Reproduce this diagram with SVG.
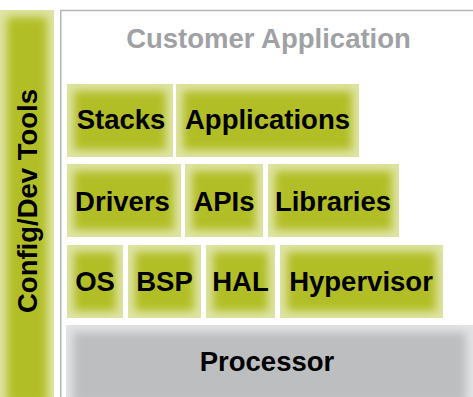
<svg xmlns="http://www.w3.org/2000/svg" width="473" height="397" viewBox="0 0 473 397">
  <defs>
    <!-- Soft block: pale rim fading into a solid core of the fill colour -->
    <filter id="soft" x="0" y="0" width="1" height="1" color-interpolation-filters="sRGB">
      <feColorMatrix in="SourceGraphic" type="matrix" values="0.42 0 0 0 0.58  0 0.42 0 0 0.58  0 0 0.42 0 0.58  0 0 0 1 0" result="rim"/>
      <feMorphology in="SourceAlpha" operator="erode" radius="7" result="inner"/>
      <feGaussianBlur in="inner" stdDeviation="4.5" result="mask"/>
      <feComposite in="SourceGraphic" in2="mask" operator="in" result="core0"/>
      <feComposite in="core0" in2="SourceAlpha" operator="in" result="core"/>
      <feMerge>
        <feMergeNode in="rim"/>
        <feMergeNode in="core"/>
      </feMerge>
    </filter>
  </defs>
  <style>
    .blk { fill: #b2be26; filter: url(#soft); }
    .cpu { fill: #bdbec0; filter: url(#soft); }
    .lbl { font-family: "Liberation Sans", Arial, Helvetica, sans-serif; font-weight: bold; font-size: 27.5px; fill: #000; text-anchor: middle; }
    .ttl { font-family: "Liberation Sans", Arial, Helvetica, sans-serif; font-weight: bold; font-size: 27.5px; fill: #a0a1a4; text-anchor: middle; }
    .frame { fill: none; stroke: #b4b5b7; stroke-width: 1.5; }
  </style>

  <rect width="473" height="397" fill="#ffffff"/>

  <!-- side bar -->
  <g id="config-dev-tools">
    <rect class="blk" x="0" y="10" width="54" height="400"/>
    <text class="lbl" transform="translate(37 201) rotate(-90)" x="0" y="0">Config/Dev Tools</text>
  </g>

  <!-- customer application frame -->
  <g id="customer-application">
    <path class="frame" d="M473 10.5 H60.75 V397"/>
    <text class="ttl" x="268.5" y="47.5">Customer Application</text>
  </g>

  <g id="stacks">
    <rect class="blk" x="67" y="84" width="106" height="73"/>
    <text class="lbl" x="121" y="129">Stacks</text>
  </g>
  <g id="applications">
    <rect class="blk" x="176" y="84" width="183" height="73"/>
    <text class="lbl" x="267.5" y="129">Applications</text>
  </g>

  <g id="drivers">
    <rect class="blk" x="67" y="164" width="114" height="73"/>
    <text class="lbl" x="122.5" y="210.5">Drivers</text>
  </g>
  <g id="apis">
    <rect class="blk" x="185" y="164" width="78" height="73"/>
    <text class="lbl" x="224" y="210.5">APIs</text>
  </g>
  <g id="libraries">
    <rect class="blk" x="268" y="164" width="131" height="73"/>
    <text class="lbl" x="333" y="210.5">Libraries</text>
  </g>

  <g id="os">
    <rect class="blk" x="67" y="245" width="56" height="73"/>
    <text class="lbl" x="95" y="290.7">OS</text>
  </g>
  <g id="bsp">
    <rect class="blk" x="128" y="245" width="73" height="73"/>
    <text class="lbl" x="164.5" y="290.7">BSP</text>
  </g>
  <g id="hal">
    <rect class="blk" x="206" y="245" width="69" height="73"/>
    <text class="lbl" x="240.5" y="290.7">HAL</text>
  </g>
  <g id="hypervisor">
    <rect class="blk" x="280" y="245" width="163" height="73"/>
    <text class="lbl" x="361" y="290.7">Hypervisor</text>
  </g>

  <g id="processor">
    <rect class="cpu" x="66" y="325" width="407" height="85"/>
    <text class="lbl" x="267" y="370.7">Processor</text>
  </g>
</svg>
